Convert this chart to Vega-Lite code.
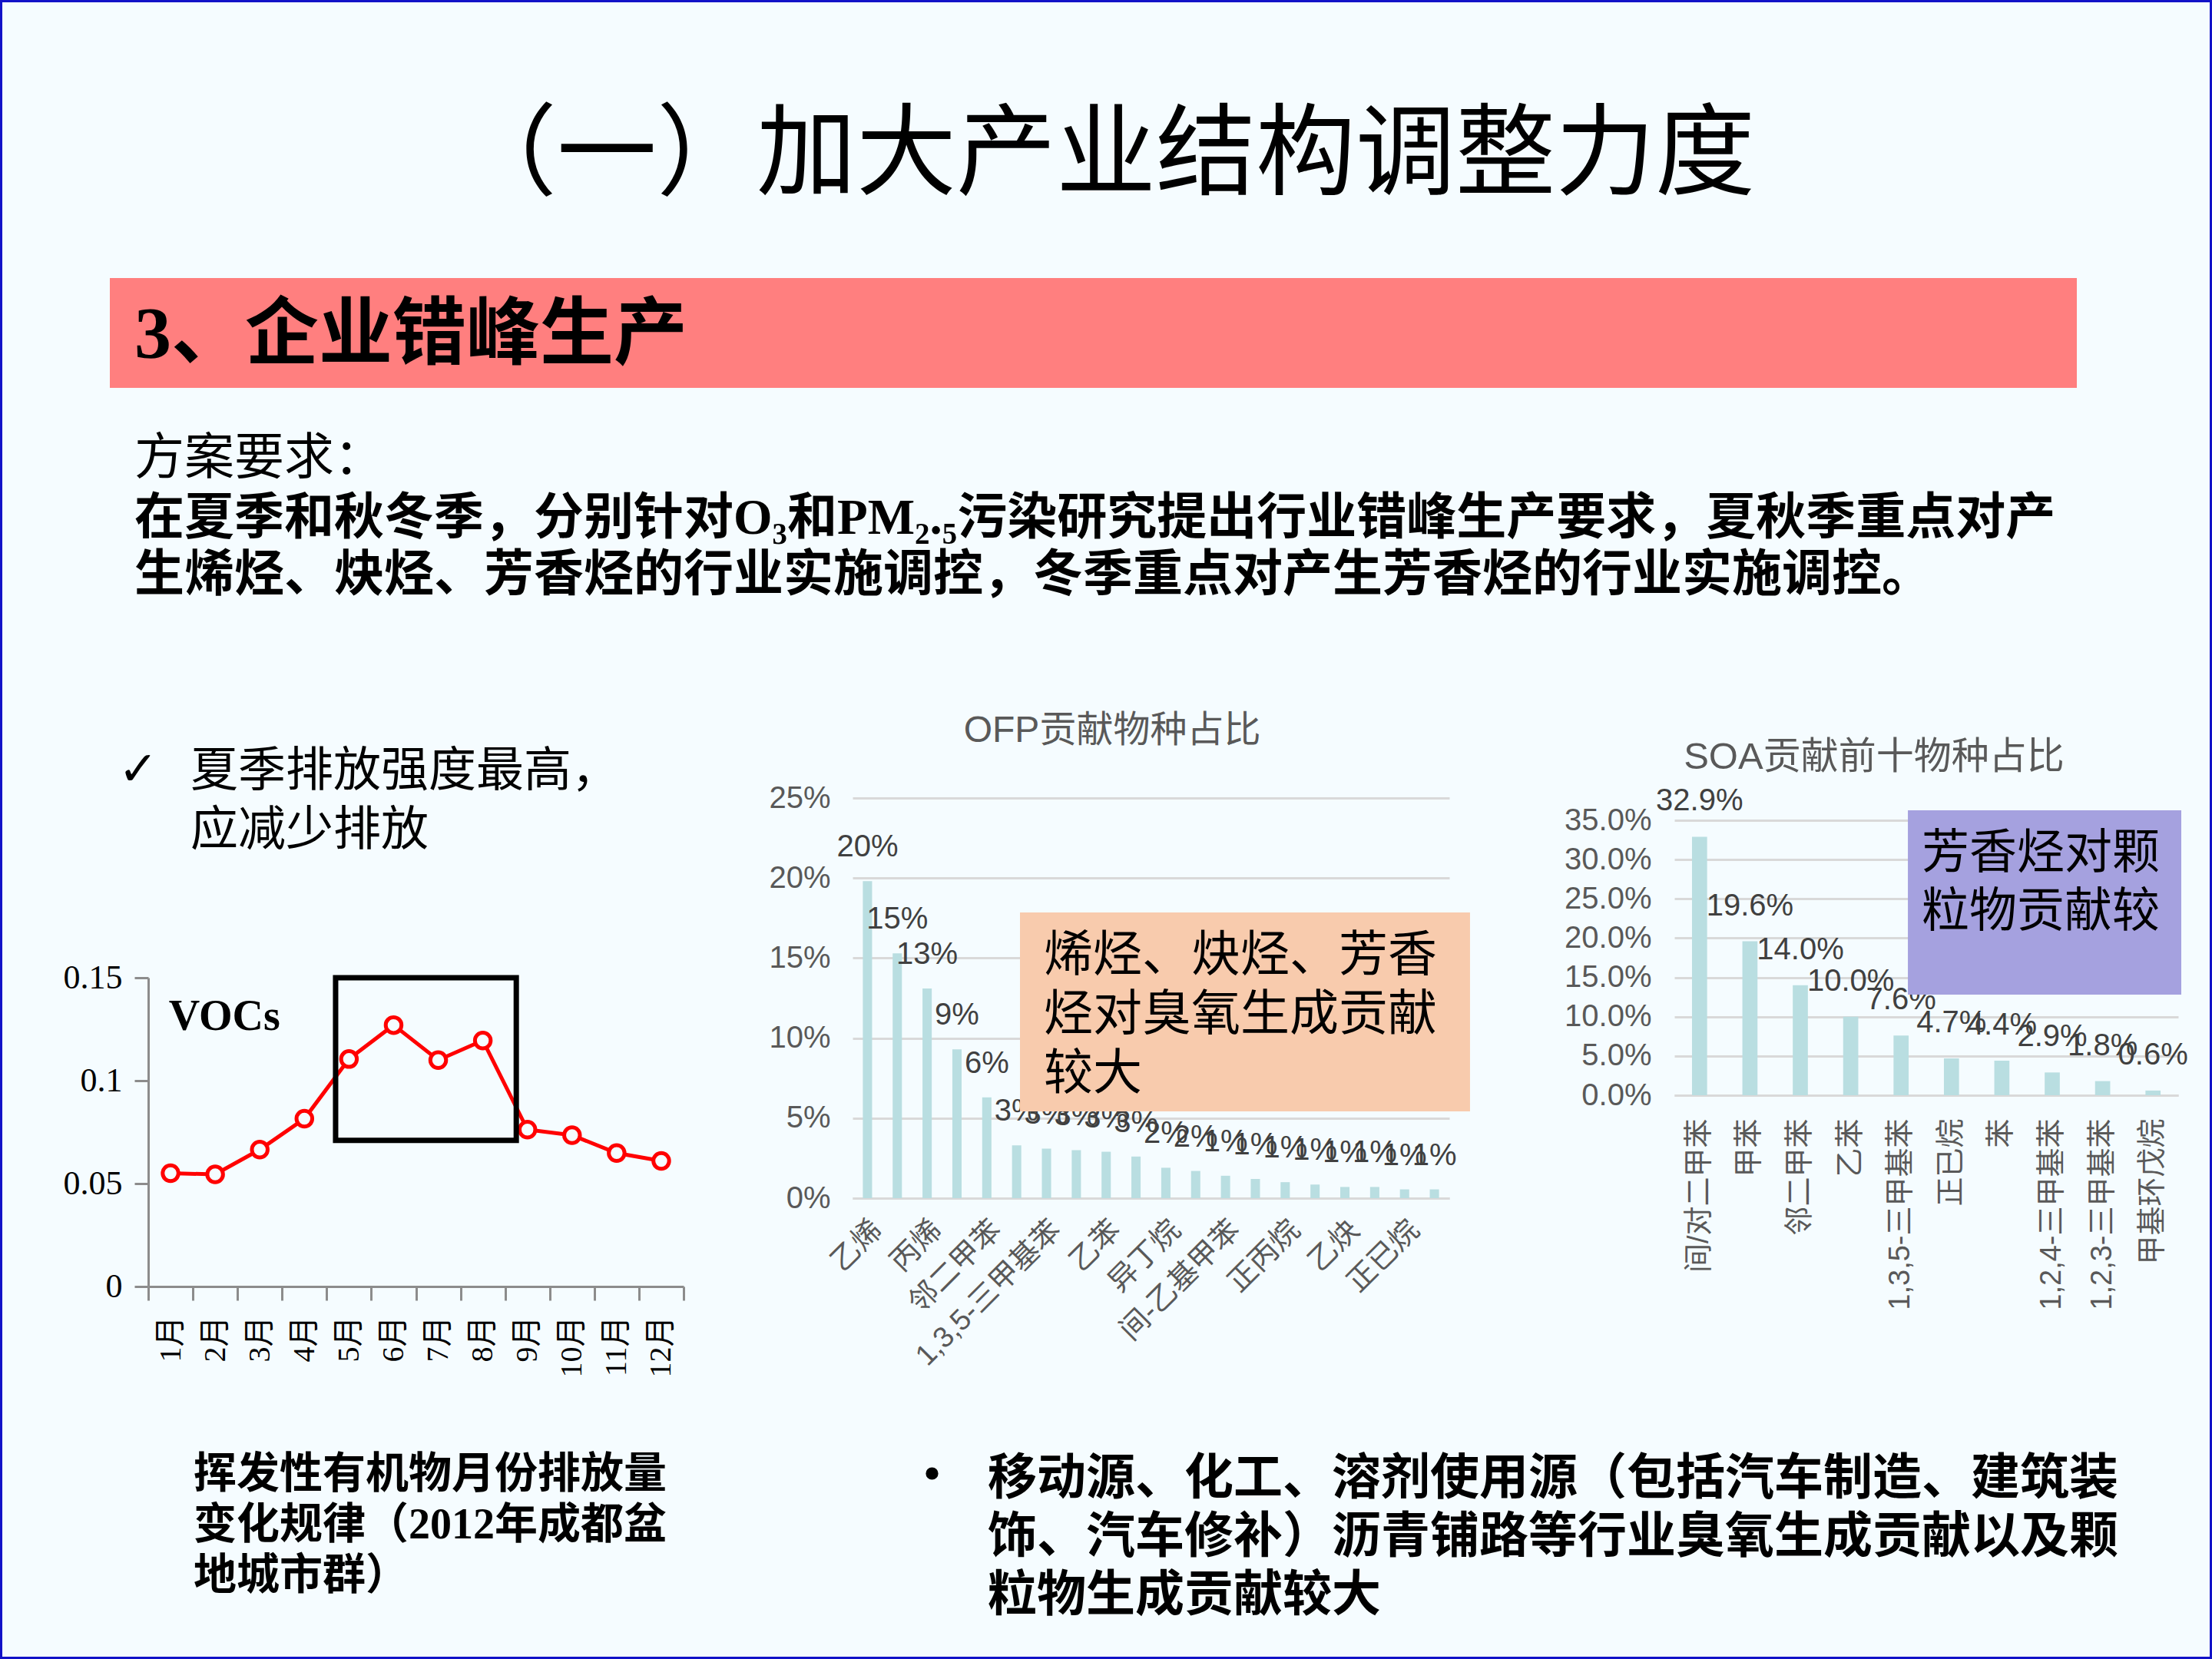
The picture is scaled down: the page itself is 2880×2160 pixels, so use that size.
{
  "$schema": "https://vega.github.io/schema/vega-lite/v6.json",
  "width": 2880,
  "height": 2160,
  "autosize": {"type": "none"},
  "padding": 0,
  "background": "#F5FCFF",
  "config": {"view": {"stroke": "#1212C8", "strokeWidth": 6}},
  "resolve": {"scale": {"x": "independent", "y": "independent"}},
  "layer": [
    {
      "data": {"values": [{}]},
      "mark": {"type": "rect", "x": 143, "x2": 2704, "y": 362, "y2": 505, "color": "#FF7F7F"},
      "encoding": {}
    },
    {
      "data": {"values": [{"t": "（一）加大产业结构调整力度"}]},
      "mark": {"type": "text", "x": 1440, "y": 204, "align": "center", "baseline": "middle", "font": "'Liberation Serif', 'Noto Sans CJK SC'", "fontSize": 130, "color": "#000000"},
      "encoding": {"text": {"field": "t"}}
    },
    {
      "data": {"values": [{"t": "3、企业错峰生产"}]},
      "mark": {"type": "text", "x": 175, "y": 437, "align": "left", "baseline": "middle", "font": "'Liberation Serif', 'Noto Sans CJK SC'", "fontSize": 96, "fontWeight": "bold", "color": "#000000"},
      "encoding": {"text": {"field": "t"}}
    },
    {
      "data": {"values": [{"t": "方案要求："}]},
      "mark": {"type": "text", "x": 175, "y": 597, "align": "left", "baseline": "middle", "font": "'Liberation Serif', 'Noto Sans CJK SC'", "fontSize": 65, "color": "#000000"},
      "encoding": {"text": {"field": "t"}}
    },
    {
      "data": {"values": [{"t": "在夏季和秋冬季，分别针对O₃和PM₂.₅污染研究提出行业错峰生产要求，夏秋季重点对产\n生烯烃、炔烃、芳香烃的行业实施调控，冬季重点对产生芳香烃的行业实施调控。"}]},
      "mark": {"type": "text", "x": 175, "y": 644, "align": "left", "baseline": "top", "lineBreak": "\n", "lineHeight": 74, "font": "'Liberation Serif', 'Noto Sans CJK SC'", "fontSize": 65, "fontWeight": "bold", "color": "#000000"},
      "encoding": {"text": {"field": "t"}}
    },
    {
      "data": {"values": [{"t": "✓"}]},
      "mark": {"type": "text", "x": 154, "y": 1003, "align": "left", "baseline": "middle", "font": "DejaVu Sans", "fontSize": 62, "fontWeight": "bold", "color": "#000000"},
      "encoding": {"text": {"field": "t"}}
    },
    {
      "data": {"values": [{"t": "夏季排放强度最高，\n应减少排放"}]},
      "mark": {"type": "text", "x": 248, "y": 975, "align": "left", "baseline": "top", "lineBreak": "\n", "lineHeight": 77, "font": "'Liberation Serif', 'Noto Sans CJK SC'", "fontSize": 62, "color": "#000000"},
      "encoding": {"text": {"field": "t"}}
    },
    {
      "data": {"values": [
        {"m": "1月", "v": 0.055},
        {"m": "2月", "v": 0.0545},
        {"m": "3月", "v": 0.0665},
        {"m": "4月", "v": 0.0815},
        {"m": "5月", "v": 0.1105},
        {"m": "6月", "v": 0.127},
        {"m": "7月", "v": 0.110},
        {"m": "8月", "v": 0.1195},
        {"m": "9月", "v": 0.0762},
        {"m": "10月", "v": 0.0735},
        {"m": "11月", "v": 0.0648},
        {"m": "12月", "v": 0.061}
      ]},
      "layer": [
        {
          "mark": {"type": "line", "color": "#FF0000", "strokeWidth": 5},
          "encoding": {
            "x": {"field": "m", "type": "ordinal", "sort": null,
              "scale": {"type": "band", "domain": ["1月","2月","3月","4月","5月","6月","7月","8月","9月","10月","11月","12月"], "range": [193, 890], "paddingInner": 0, "paddingOuter": 0},
              "axis": {"orient": "bottom", "offset": -485, "title": null, "labelAngle": -90, "labelFont": "'Liberation Serif', 'Noto Sans CJK SC'", "labelFontSize": 40, "labelColor": "#000000", "tickBand": "extent", "tickSize": 18, "tickWidth": 3, "tickColor": "#8C8C8C", "domainColor": "#8C8C8C", "domainWidth": 3, "labelPadding": 20, "grid": false, "labelOverlap": false, "labelBound": false}},
            "y": {"field": "v", "type": "quantitative",
              "scale": {"domain": [0, 0.15], "range": [1675, 1273], "nice": false},
              "axis": {"orient": "left", "offset": -193, "title": null, "values": [0, 0.05, 0.1, 0.15], "format": ".2~f", "labelFont": "Liberation Serif", "labelFontSize": 44, "labelColor": "#000000", "tickSize": 18, "tickWidth": 3, "tickColor": "#8C8C8C", "domainColor": "#8C8C8C", "domainWidth": 3, "labelPadding": 16, "grid": false}}
          }
        },
        {
          "mark": {"type": "point", "shape": "circle", "size": 420, "filled": true, "fill": "#F5FCFF", "stroke": "#FF0000", "strokeWidth": 5, "opacity": 1},
          "encoding": {
            "x": {"field": "m", "type": "ordinal", "sort": null},
            "y": {"field": "v", "type": "quantitative"}
          }
        },
        {
          "data": {"values": [{}]},
          "mark": {"type": "rect", "fill": "#000000", "fillOpacity": 0, "stroke": "#000000", "strokeWidth": 7},
          "encoding": {
            "x": {"datum": "5月", "type": "ordinal", "bandPosition": 0.2},
            "x2": {"datum": "9月", "bandPosition": 0.25},
            "y": {"datum": 0.15, "type": "quantitative"},
            "y2": {"datum": 0.071}
          }
        },
        {
          "data": {"values": [{"t": "VOCs"}]},
          "mark": {"type": "text", "font": "Liberation Serif", "fontWeight": "bold", "fontSize": 56, "align": "left", "baseline": "middle", "color": "#000000"},
          "encoding": {
            "text": {"field": "t"},
            "x": {"datum": "1月", "type": "ordinal", "bandPosition": 0.46},
            "y": {"datum": 0.131, "type": "quantitative"}
          }
        }
      ]
    },
    {
      "data": {"values": [{"t": "挥发性有机物月份排放量\n变化规律（2012年成都盆\n地城市群）"}]},
      "mark": {"type": "text", "x": 252, "y": 1893, "align": "left", "baseline": "top", "lineBreak": "\n", "lineHeight": 66, "font": "'Liberation Serif', 'Noto Sans CJK SC'", "fontSize": 56, "fontWeight": "bold", "color": "#000000"},
      "encoding": {"text": {"field": "t"}}
    },
    {
      "data": {"values": [
        {"s": "乙烯", "v": 0.198},
        {"s": "间/对二甲苯", "v": 0.153},
        {"s": "丙烯", "v": 0.131},
        {"s": "甲苯", "v": 0.093},
        {"s": "邻二甲苯", "v": 0.063},
        {"s": "1,2,4-三甲基苯", "v": 0.033},
        {"s": "1,3,5-三甲基苯", "v": 0.031},
        {"s": "反-2-丁烯", "v": 0.030},
        {"s": "乙苯", "v": 0.029},
        {"s": "1-丁烯", "v": 0.026},
        {"s": "异丁烷", "v": 0.019},
        {"s": "正丁烷", "v": 0.017},
        {"s": "间-乙基甲苯", "v": 0.014},
        {"s": "异戊烷", "v": 0.012},
        {"s": "正丙烷", "v": 0.010},
        {"s": "1,2,3-三甲基苯", "v": 0.0085},
        {"s": "乙炔", "v": 0.007},
        {"s": "苯", "v": 0.007},
        {"s": "正已烷", "v": 0.0055},
        {"s": "苯乙烯", "v": 0.0055}
      ]},
      "layer": [
        {
          "mark": {"type": "bar", "color": "#B9DEE1"},
          "encoding": {
            "x": {"field": "s", "type": "nominal", "sort": null,
              "scale": {"type": "band", "range": [1110, 1887], "paddingInner": 0.69, "paddingOuter": 0.345},
              "axis": {"orient": "bottom", "offset": -600, "title": null, "values": ["乙烯","丙烯","邻二甲苯","1,3,5-三甲基苯","乙苯","异丁烷","间-乙基甲苯","正丙烷","乙炔","正已烷"], "labelAngle": -45, "labelFont": "'Liberation Sans', 'Noto Sans CJK SC'", "labelFontSize": 38, "labelColor": "#595959", "labelLimit": 600, "ticks": false, "tickSize": 0, "domainColor": "#D9D9D9", "domainWidth": 3, "labelPadding": 22, "labelOverlap": false, "labelBound": false, "grid": false}},
            "y": {"field": "v", "type": "quantitative",
              "scale": {"domain": [0, 0.25], "range": [1560, 1039], "nice": false},
              "axis": {"orient": "left", "offset": -1110, "title": null, "values": [0, 0.05, 0.1, 0.15, 0.2, 0.25], "format": ".0%", "labelFont": "Liberation Sans", "labelFontSize": 40, "labelColor": "#595959", "domain": false, "ticks": false, "tickSize": 0, "labelPadding": 29, "grid": true, "gridColor": "#D9D9D9", "gridWidth": 3}}
          }
        },
        {
          "mark": {"type": "text", "font": "Liberation Sans", "fontSize": 40, "color": "#404040", "baseline": "alphabetic", "dy": -32},
          "encoding": {
            "x": {"field": "s", "type": "nominal", "sort": null},
            "y": {"field": "v", "type": "quantitative"},
            "text": {"field": "v", "type": "quantitative", "format": ".0%"}
          }
        },
        {
          "data": {"values": [{}]},
          "mark": {"type": "rect", "color": "#F8CBAD"},
          "encoding": {
            "x": {"datum": "1,2,4-三甲基苯", "type": "nominal", "bandPosition": 0.86},
            "x2": {"datum": "苯乙烯", "bandPosition": 4.35},
            "y": {"datum": 0.1785, "type": "quantitative"},
            "y2": {"datum": 0.0542}
          }
        },
        {
          "data": {"values": [{"t": "烯烃、炔烃、芳香\n烃对臭氧生成贡献\n较大"}]},
          "mark": {"type": "text", "font": "'Liberation Serif', 'Noto Sans CJK SC'", "fontSize": 64, "align": "left", "baseline": "top", "lineBreak": "\n", "lineHeight": 77, "color": "#000000"},
          "encoding": {
            "text": {"field": "t"},
            "x": {"datum": "1,3,5-三甲基苯", "type": "nominal", "bandPosition": 0.2},
            "y": {"datum": 0.1665, "type": "quantitative"}
          }
        },
        {
          "data": {"values": [{"t": "OFP贡献物种占比"}]},
          "mark": {"type": "text", "font": "'Liberation Sans', 'Noto Sans CJK SC'", "fontSize": 48, "align": "center", "baseline": "middle", "color": "#595959"},
          "encoding": {
            "text": {"field": "t"},
            "x": {"datum": "乙苯", "type": "nominal", "bandPosition": 1.15},
            "y": {"datum": 0.2917, "type": "quantitative"}
          }
        }
      ]
    },
    {
      "data": {"values": [
        {"s": "间/对二甲苯", "v": 0.329},
        {"s": "甲苯", "v": 0.196},
        {"s": "邻二甲苯", "v": 0.140},
        {"s": "乙苯", "v": 0.100},
        {"s": "1,3,5-三甲基苯", "v": 0.076},
        {"s": "正已烷", "v": 0.047},
        {"s": "苯", "v": 0.044},
        {"s": "1,2,4-三甲基苯", "v": 0.029},
        {"s": "1,2,3-三甲基苯", "v": 0.018},
        {"s": "甲基环戊烷", "v": 0.006}
      ]},
      "layer": [
        {
          "mark": {"type": "bar", "color": "#B9DEE1"},
          "encoding": {
            "x": {"field": "s", "type": "nominal", "sort": null,
              "scale": {"type": "band", "range": [2180, 2836], "paddingInner": 0.7, "paddingOuter": 0.35},
              "axis": {"orient": "bottom", "offset": -734, "title": null, "labelAngle": -90, "labelFont": "'Liberation Sans', 'Noto Sans CJK SC'", "labelFontSize": 38, "labelColor": "#595959", "labelLimit": 600, "ticks": false, "tickSize": 0, "domainColor": "#D9D9D9", "domainWidth": 3, "labelPadding": 30, "labelOverlap": false, "labelBound": false, "grid": false}},
            "y": {"field": "v", "type": "quantitative",
              "scale": {"domain": [0, 0.35], "range": [1426, 1068], "nice": false},
              "axis": {"orient": "left", "offset": -2180, "title": null, "values": [0, 0.05, 0.1, 0.15, 0.2, 0.25, 0.3, 0.35], "format": ".1%", "labelFont": "Liberation Sans", "labelFontSize": 40, "labelColor": "#595959", "domain": false, "ticks": false, "tickSize": 0, "labelPadding": 30, "grid": true, "gridColor": "#D9D9D9", "gridWidth": 3}}
          }
        },
        {
          "mark": {"type": "text", "font": "Liberation Sans", "fontSize": 40, "color": "#404040", "baseline": "alphabetic", "dy": -34},
          "encoding": {
            "x": {"field": "s", "type": "nominal", "sort": null},
            "y": {"field": "v", "type": "quantitative"},
            "text": {"field": "v", "type": "quantitative", "format": ".1%"}
          }
        },
        {
          "data": {"values": [{}]},
          "mark": {"type": "rect", "color": "#A5A1DF"},
          "encoding": {
            "x": {"datum": "1,3,5-三甲基苯", "type": "nominal", "bandPosition": 0.95},
            "x2": {"datum": "甲基环戊烷", "bandPosition": 2.37},
            "y": {"datum": 0.3627, "type": "quantitative"},
            "y2": {"datum": 0.128}
          }
        },
        {
          "data": {"values": [{"t": "芳香烃对颗\n粒物贡献较"}]},
          "mark": {"type": "text", "font": "'Liberation Serif', 'Noto Sans CJK SC'", "fontSize": 62, "align": "left", "baseline": "top", "lineBreak": "\n", "lineHeight": 76, "color": "#000000"},
          "encoding": {
            "text": {"field": "t"},
            "x": {"datum": "1,3,5-三甲基苯", "type": "nominal", "bandPosition": 1.86},
            "y": {"datum": 0.3363, "type": "quantitative"}
          }
        },
        {
          "data": {"values": [{"t": "SOA贡献前十物种占比"}]},
          "mark": {"type": "text", "font": "'Liberation Sans', 'Noto Sans CJK SC'", "fontSize": 49, "align": "center", "baseline": "middle", "color": "#595959"},
          "encoding": {
            "text": {"field": "t"},
            "x": {"datum": "乙苯", "type": "nominal", "bandPosition": 2.04},
            "y": {"datum": 0.4302, "type": "quantitative"}
          }
        }
      ]
    },
    {
      "data": {"values": [{"t": "•"}]},
      "mark": {"type": "text", "x": 1203, "y": 1920, "align": "left", "baseline": "middle", "font": "'Liberation Serif', 'Noto Sans CJK SC'", "fontSize": 60, "fontWeight": "bold", "color": "#000000"},
      "encoding": {"text": {"field": "t"}}
    },
    {
      "data": {"values": [{"t": "移动源、化工、溶剂使用源（包括汽车制造、建筑装\n饰、汽车修补）沥青铺路等行业臭氧生成贡献以及颗\n粒物生成贡献较大"}]},
      "mark": {"type": "text", "x": 1286, "y": 1894, "align": "left", "baseline": "top", "lineBreak": "\n", "lineHeight": 76, "font": "'Liberation Serif', 'Noto Sans CJK SC'", "fontSize": 64, "fontWeight": "bold", "color": "#000000"},
      "encoding": {"text": {"field": "t"}}
    }
  ]
}
